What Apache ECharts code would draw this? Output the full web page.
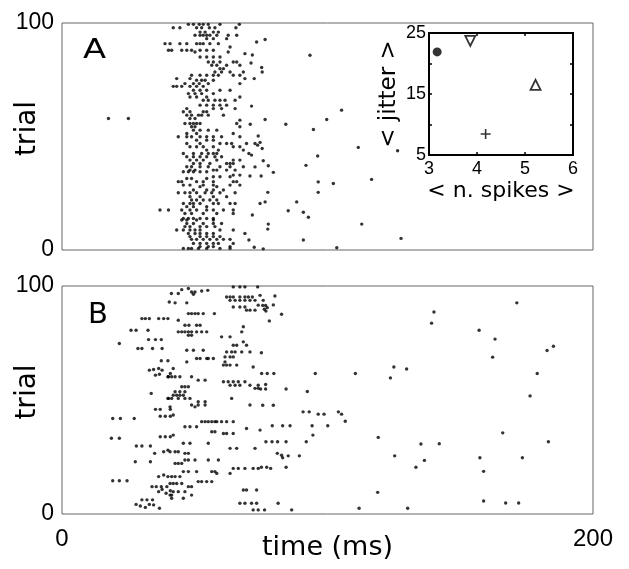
<!DOCTYPE html>
<html>
<head>
<meta charset="utf-8">
<script src="https://cdn.jsdelivr.net/npm/echarts@6/dist/echarts.min.js"></script>
<style>
  html, body { margin: 0; padding: 0; background: #fff; }
  #chart { width: 629px; height: 569px; }
</style>
</head>
<body>
<div id="chart"></div>
<script>
// spike rasters: [time (ms), trial]
let raster_a_early = [
    [47.6,99.4],[49.5,99.4],[51.7,99.4],[53.2,99.4],[55.1,99.4],[59.5,99.4],[66.8,99.4],
    [41.9,97.9],[44.4,97.9],[50.7,97.9],[52.6,97.9],[55.5,97.9],[57.6,97.9],[65.5,97.9],
    [52.0,96.0],[53.9,96.0],[57.0,96.0],[58.9,96.0],
    [50.1,94.6],[52.0,94.6],[53.2,94.6],[54.5,94.6],[55.7,94.6],[58.3,94.6],[62.6,94.6],[65.8,94.6],
    [54.5,93.1],[57.0,93.1],[62.0,93.1],
    [38.8,90.9],[40.7,90.9],[44.4,90.9],[47.0,90.9],[50.7,90.9],[52.0,90.9],[53.2,90.9],[55.7,90.9],[58.9,90.9],
    [63.3,89.4],
    [40.1,88.0],[41.3,88.0],[45.1,88.0],[47.0,88.0],[48.8,88.0],[52.0,88.0],[54.5,88.0],[57.0,88.0],
    [50.1,87.2],[62.6,87.2],[68.9,86.5],
    [52.0,85.0],[54.5,85.0],[57.0,85.0],[59.5,85.0],
    [55.1,82.8],[57.0,82.8],[59.5,82.8],[64.5,82.8],[65.8,82.8],
    [56.4,81.4],[58.3,81.4],[62.0,81.4],[67.0,81.4],
    [59.5,79.9],[60.8,79.9],
    [57.6,78.4],[60.1,78.4],[63.3,78.4],[68.3,78.4],
    [48.8,77.0],[52.0,77.0],[54.5,77.0],[57.0,77.0],[58.9,77.0],[64.5,77.0],[67.0,77.0],
    [43.2,75.5],[48.2,75.5],[68.9,75.5],
    [50.7,74.8],[52.6,74.8],[53.9,74.8],[57.0,74.8],
    [46.3,73.3],[49.5,73.3],[51.7,73.3],[55.1,73.3],[67.0,73.3],
    [41.9,72.1],[43.2,72.1],[45.1,72.1],[48.2,72.1],[50.7,72.1],[53.2,72.1],
    [49.5,70.4],[52.0,70.4],[54.5,70.4],[59.5,70.4],[63.3,70.4],
    [47.6,68.9],[50.1,68.9],[52.6,68.9],[57.0,68.9],
    [48.2,67.4],[50.7,67.4],[54.5,67.4],[67.0,67.4],
    [53.2,66.0],[55.1,66.0],[57.6,66.0],[59.5,66.0],[61.4,66.0],[65.2,66.0],
    [52.0,63.8],[54.5,63.8],[57.0,63.8],[59.5,63.8],[62.0,63.8],
    [47.0,62.3],[57.0,62.3],[60.1,62.3],[65.2,62.3],
    [45.7,60.9],[48.2,60.9],[53.2,60.9],[54.5,60.9],
    [47.0,59.4],[48.8,59.4],[51.4,59.4],[52.6,59.4],[55.1,59.4],[60.8,59.4],
    [17.5,57.9],[25.0,57.9],[48.2,57.9],[50.1,57.9],[67.0,57.2],
    [46.3,55.7],[48.2,55.7],[49.5,55.7],[50.7,55.7],[52.0,55.7],[65.8,55.7],
    [48.8,54.3],[50.1,54.3],[67.0,54.3],
    [49.5,52.8],[52.0,52.8],[55.1,52.8],[58.3,52.8],
    [47.0,51.3],[50.7,51.3],[64.5,51.3],
    [43.8,49.9],[47.0,49.9],[48.8,49.9],[52.0,49.9],[54.5,49.9],[57.0,49.9],[60.1,49.9],[67.0,49.9],
    [50.7,48.4],[54.5,48.4],[57.0,48.4],
    [47.0,46.9],[52.0,46.9],[59.5,46.9],[62.0,46.9],[63.9,46.9],[69.5,46.9],
    [48.2,45.5],[50.7,45.5],[53.2,45.5],[57.0,45.5],[64.5,45.5],[67.0,45.5],
    [54.5,44.0],[58.9,44.0],[68.3,44.0],
    [45.7,42.5],[49.5,42.5],[52.6,42.5],[55.1,42.5],[57.0,42.5],[58.3,42.5],
    [47.0,41.1],[49.5,41.1],[52.0,41.1],[54.5,41.1],[57.6,41.1],[60.1,41.1],
    [48.2,39.6],[50.7,39.6],[53.2,39.6],[58.3,39.6],[64.5,39.6],[67.0,39.6],
    [49.5,38.1],[52.0,38.1],[55.7,38.1],[62.0,38.1],[63.3,38.1],[64.5,38.1],
    [47.0,36.7],[48.8,36.7],[52.0,36.7],[55.1,36.7],[59.5,36.7],[63.3,36.7],[68.3,36.7],
    [48.2,35.2],[50.1,35.2],[57.0,35.2],[58.3,35.2],[62.0,35.2],[65.2,35.2],
    [45.7,34.5],[47.6,34.5],[49.5,34.5],[52.0,34.5],[54.5,34.5],
    [64.5,33.0],[67.0,33.0],[57.0,32.3],[59.5,32.3],[63.3,32.3],
    [47.0,31.5],[48.8,31.5],[54.5,31.5],
    [43.8,30.1],[45.1,30.1],[50.7,30.1],[53.2,30.1],[57.0,30.1],[64.5,30.1],[65.8,30.1],
    [45.7,28.6],[48.2,28.6],[53.2,28.6],[57.0,28.6],[63.3,28.6],[67.0,28.6],
    [52.0,27.9],[58.3,27.9],
    [49.5,26.4],[54.5,26.4],[57.0,26.4],[60.8,26.4],
    [43.8,25.2],[46.3,25.2],[48.2,25.2],[50.7,25.2],[53.9,25.2],[56.4,25.2],[59.5,25.2],[65.2,25.2],
    [48.2,23.5],[52.0,23.5],[57.0,23.5],[62.0,23.5],
    [48.8,22.0],[50.7,22.0],[53.2,22.0],[55.7,22.0],[58.3,22.0],
    [45.7,20.5],[48.2,20.5],[49.5,20.5],[52.0,20.5],[57.0,20.5],[58.9,20.5],[63.3,20.5],[65.2,20.5],
    [47.0,19.1],[49.5,19.1],[54.5,19.1],
    [36.9,17.6],[40.1,17.6],[45.1,17.6],[48.2,17.6],[50.7,17.6],[54.5,17.6],[57.0,17.6],[60.8,17.6],[64.5,17.6],
    [46.3,16.1],[48.8,16.1],[53.2,16.1],[58.3,16.1],[64.5,16.1],
    [45.7,13.9],[47.6,13.9],[49.5,13.9],[52.0,13.9],[54.5,13.9],[57.0,13.9],
    [45.1,13.2],[47.0,13.2],[50.7,13.2],[57.0,13.2],
    [47.0,11.7],[49.5,11.7],[53.2,11.7],[57.0,11.7],[60.1,11.7],
    [46.3,10.3],[48.2,10.3],[52.0,10.3],[54.5,10.3],[57.6,10.3],
    [43.2,8.8],[45.7,8.8],[48.2,8.8],[50.1,8.8],[52.0,8.8],[59.5,8.8],[64.5,8.8],
    [47.6,7.3],[50.1,7.3],[52.0,7.3],[54.5,7.3],[57.0,7.3],[68.9,7.3],
    [48.2,5.9],[52.0,5.9],[54.5,5.9],[57.0,5.9],[59.5,5.9],
    [48.8,4.7],[50.7,4.7],[53.2,4.7],[55.7,4.7],[58.3,4.7],[60.8,4.7],[63.3,4.7],
    [49.5,2.9],[52.0,2.9],[54.5,2.9],[57.0,2.9],[58.9,2.9],[64.5,2.9],
    [52.0,1.5],[55.1,1.5],[57.0,1.5],[63.3,1.5],
    [45.7,0.7],[47.6,0.7],[48.8,0.7],[51.4,0.7],[54.5,0.7],[59.5,0.7],[63.3,0.7]
];

let raster_a_late = [
    [73.3,91.6],[76.5,92.7],[71.7,85.9],[71.2,82.4],[75.2,80.4],[75.4,78.4],[72.4,75.5],[93.4,85.8],
    [71.4,63.4],[70.9,55.4],[76.5,57.5],[84.3,55.4],[94.7,53.1],[99.7,57.5],[105.3,61.6],
    [73.9,50.2],[74.6,47.4],[72.7,46.9],[73.7,46.2],[75.4,44.7],[70.4,42.5],[71.4,41.8],
    [111.6,45.2],[96.3,41.4],[75.8,39.3],[77.7,37.1],[72.7,36.6],[79.6,34.2],[70.8,32.6],[75.0,32.6],
    [91.9,37.3],[96.5,30.0],[102.2,29.3],[116.6,31.1],[96.5,25.4],[77.5,25.4],[76.5,21.2],[74.6,20.5],
    [88.4,21.2],[85.2,17.3],[90.9,16.6],[92.8,14.4],[71.7,15.4],[77.7,11.4],[77.5,9.2],[112.9,11.4],
    [70.4,4.4],[72.4,1.2],[75.8,0.5],[90.9,4.4],[103.5,1.0],[127.7,5.1],[126.4,43.7]
];

let raster_b_early = [
    [41.2,96.7],[40.4,93.0],
    [30.1,85.7],[31.4,85.7],[32.9,85.7],[36.4,85.7],[38.3,85.7],[39.9,85.7],
    [26.0,80.6],[27.9,80.6],[32.4,80.6],[21.6,74.8],
    [32.6,76.5],[35.2,76.5],[37.4,76.5],
    [28.6,72.6],[30.1,72.6],[34.1,72.6],[37.7,72.6],
    [37.4,67.2],[39.9,67.2],
    [32.9,63.1],[34.5,63.4],[36.4,63.8],[37.7,63.1],[35.2,60.9],[36.7,61.3],[39.9,60.2],[40.8,61.6],
    [33.6,52.9],[39.9,50.7],
    [35.2,45.9],[37.0,45.9],[40.8,45.9],
    [37.0,42.9],[38.9,42.9],[40.8,42.9],
    [19.1,41.9],[22.0,41.9],[27.2,41.9],
    [18.6,33.2],[21.6,33.2],
    [37.0,33.9],[38.9,33.9],[40.8,33.9],
    [28.0,29.8],[30.1,29.8],[33.3,29.8],
    [34.9,26.6],[38.3,27.3],[39.9,28.0],
    [27.6,22.9],[33.3,22.9],
    [19.1,14.6],[21.6,14.6],[24.5,14.6],
    [36.4,16.4],[38.3,17.1],[39.9,16.4],
    [33.9,12.0],[35.5,12.0],[37.4,12.0],[39.5,12.0],
    [36.4,9.8],[37.7,10.8],[39.2,9.1],[40.8,10.2],
    [30.1,6.2],[32.0,6.2],[34.1,6.2],
    [27.9,4.2],[29.5,3.5],[31.4,2.9],[32.9,4.2],[34.5,4.0],[36.7,2.5]
];

let raster_b_mid = [
    [64.5,99.6],[67.0,99.6],[68.9,99.6],[73.7,99.6],
    [43.8,96.7],[45.1,98.4],[47.6,98.9],[48.8,97.4],[49.5,96.4],[50.1,97.4],[52.6,97.8],[54.9,98.1],
    [62.0,95.2],[63.3,95.2],[64.5,95.2],[67.0,95.2],[68.9,95.2],[70.2,95.2],[71.7,95.2],
    [63.3,93.7],[65.2,93.7],[67.0,93.7],[68.9,93.7],[70.8,93.7],[72.7,93.7],
    [42.6,92.6],[47.0,92.6],[73.9,91.6],
    [64.5,90.8],[67.0,90.8],[68.9,90.8],
    [69.5,89.4],[70.8,89.4],[72.7,89.4],
    [47.6,87.9],[48.8,87.9],[50.1,87.9],[51.3,87.9],[53.2,87.9],[57.4,87.9],
    [43.8,85.0],
    [46.3,82.8],[47.8,82.8],[50.7,82.8],[52.0,82.8],[68.3,82.1],
    [43.8,79.9],[45.1,79.9],[46.3,79.9],[47.6,79.9],[48.8,79.9],[50.7,79.9],[52.6,79.9],[54.5,79.9],[67.7,79.9],
    [47.6,78.4],[48.8,78.4],[60.1,77.7],[63.3,77.7],[68.3,75.5],
    [64.5,74.0],[65.8,74.0],[69.5,74.0],
    [47.0,71.8],[49.5,71.8],[53.2,71.8],
    [62.0,71.1],[63.9,71.1],[65.2,71.1],[67.7,71.1],[70.8,71.1],
    [61.4,68.9],[63.3,68.9],[64.5,68.9],
    [50.7,68.2],[52.0,68.2],[54.5,68.2],[55.1,68.2],[57.0,68.2],
    [47.0,66.7],[61.4,66.7],
    [60.8,65.3],[62.0,65.3],[63.3,65.3],[65.8,65.3],
    [72.0,64.5],[41.9,63.8],
    [40.1,60.2],[41.3,60.2],[42.6,60.2],[44.4,60.2],[48.8,60.2],
    [51.3,58.7],[53.9,58.7],
    [60.8,58.0],[62.6,58.0],[64.5,58.0],[66.4,58.0],[68.9,58.0],
    [63.3,56.5],[65.2,56.5],[67.0,56.5],[70.8,56.5],[73.9,56.5],
    [45.1,55.8],[46.3,55.8],[47.6,55.8],[72.7,55.1],[73.9,55.1],
    [42.6,53.6],[44.4,53.6],[46.3,53.6],
    [41.9,52.1],[43.2,52.1],[44.4,52.1],[45.7,52.1],
    [40.1,50.7],[41.3,50.7],[43.8,50.7],[46.3,50.7],[48.2,50.7],[63.9,50.7],
    [51.3,49.2],[53.9,49.2],
    [48.8,47.8],[51.3,47.8],[53.9,47.8],[70.8,47.8],
    [40.7,47.0],[50.1,47.0],[41.9,43.4],
    [52.6,40.5],[53.9,40.5],[55.1,40.5],[56.4,40.5],[57.6,40.5],[58.3,40.5],[60.1,40.5],[62.0,40.5],[64.5,40.5],
    [46.3,38.3],[48.2,38.3],[50.7,38.3],[69.5,37.5],
    [56.4,36.1],[57.6,36.1],[60.8,35.3],[62.0,35.3],[64.5,35.3],
    [41.9,34.6],
    [45.7,31.0],[48.2,31.0],[55.1,31.0],
    [63.3,28.8],[65.8,28.8],[72.7,28.8],
    [40.7,27.3],[42.6,27.3],[43.8,27.3],[46.3,26.6],[47.6,26.6],
    [46.3,23.7],[47.6,23.7],[50.1,23.7],[55.1,23.7],[58.9,23.7],
    [42.6,22.2],[43.8,22.2],[45.1,22.2],
    [64.5,20.0],[66.4,20.0],[68.9,20.0],[72.0,20.0],[73.9,20.0],
    [45.7,18.6],[47.6,18.6],[50.7,18.6],[56.4,18.6],[57.6,18.6],
    [58.3,17.8],[63.3,17.8],
    [41.3,16.4],[42.6,16.4],[44.4,16.4],
    [51.3,14.2],[52.6,14.2],[54.5,14.2],[56.4,14.2],
    [40.7,13.4],[41.9,13.4],[43.2,13.4],[45.1,13.4],
    [47.6,12.0],[48.8,12.0],
    [68.3,10.5],[69.5,10.5],[73.3,10.5],
    [41.9,9.8],[43.8,9.8],[46.3,9.8],
    [40.7,8.3],[41.3,8.3],[48.8,8.3],
    [41.3,6.9],[45.7,6.9],
    [67.0,4.7],[68.9,4.7],[71.4,4.7],[73.3,4.7],
    [72.0,1.8],[73.9,1.8]
];

let raster_b_late = [
    [74.6,95.9],[80.2,95.6],[75.8,93.7],[75.6,91.5],[76.7,91.5],[79.6,91.7],[76.2,89.8],[77.3,90.5],
    [76.8,89.0],[78.1,84.7],[82.7,87.6],[75.1,70.7],
    [75.2,61.6],[77.3,61.6],[79.8,61.6],[95.4,61.6],[110.5,61.6],
    [125.0,64.5],[129.8,63.6],[123.7,59.7],
    [76.7,56.8],[74.8,54.8],[76.7,54.8],[84.4,54.8],[92.4,53.7],
    [75.6,47.7],[79.6,47.7],
    [90.8,44.8],[93.1,44.8],[96.5,43.8],[98.7,43.8],[104.1,44.8],[105.3,43.8],[106.7,40.7],
    [79.2,38.7],[83.1,38.7],[85.9,38.7],[94.2,38.7],[100.1,38.7],
    [74.6,36.8],[94.5,34.6],
    [76.8,31.7],[79.1,31.7],[81.2,31.7],[84.4,31.7],[92.0,31.7],
    [119.1,33.6],[135.2,30.7],
    [81.1,26.6],[82.7,25.8],[83.1,24.7],[85.2,25.5],[89.4,25.5],[125.3,25.5],[136.5,23.5],[133.3,20.5],
    [75.1,20.5],[77.1,20.5],[78.6,20.0],[84.4,20.5],
    [118.9,9.5],[81.4,4.7],[76.3,1.8],[86.5,1.8],[111.9,2.5],[130.2,2.5],
    [171.3,92.6],[140.1,88.6],[139.2,83.7],[157.1,80.6],[163.1,76.7],[182.7,71.7],[185.1,73.6],
    [162.2,68.8],[179.0,61.6],[176.3,51.8],[166.0,35.6],[142.1,30.8],[183.2,31.7],
    [157.4,24.7],[173.4,24.7],[158.8,18.7],[158.8,5.7],[167.1,4.8],[172.0,4.8]
];

// inset: [< n. spikes >, < jitter >]
let inset_filled_circle = [[3.17, 21.9]];
let inset_down_triangle = [[3.86, 23.7]];
let inset_up_triangle = [[5.22, 16.5]];
let inset_plus = [[4.18, 8.45]];

let inset_jitter_labels = [5, 15, 25];

let tick_font = '"Liberation Sans", Arial, sans-serif';
let name_font = '"DejaVu Sans", sans-serif';

let chart = echarts.init(document.getElementById('chart'));

let raster_y_axis = function (grid_index) {
    return {
        type: 'value',
        gridIndex: grid_index,
        min: 0,
        max: 100,
        interval: 100,
        name: 'trial',
        nameLocation: 'middle',
        nameGap: 20,
        nameMoveOverlap: false,
        nameTextStyle: {fontSize: 28, fontFamily: name_font, color: '#000', padding: [0, 0, 0, 16]},
        axisLine: {show: false},
        axisTick: {show: false},
        splitLine: {show: false},
        axisLabel: {fontSize: 23, fontFamily: tick_font, color: '#000', margin: 8}
    };
};

let raster_series = function (data, axis_index) {
    return {
        type: 'scatter',
        xAxisIndex: axis_index,
        yAxisIndex: axis_index,
        symbol: 'circle',
        symbolSize: 3.4,
        itemStyle: {color: '#000'},
        silent: true,
        data: data
    };
};

let inset_axis_common = {
    gridIndex: 2,
    type: 'value',
    nameMoveOverlap: false,
    axisLine: {show: false},
    axisTick: {show: true, inside: true, length: 3, lineStyle: {color: '#000', width: 1.5}},
    splitLine: {show: false}
};

let echarts_options = {
    animation: false,
    backgroundColor: '#fff',
    grid: [
        {left: 62, top: 23, width: 531, height: 227, outerBoundsMode: 'none', show: true, borderColor: '#666', borderWidth: 1},
        {left: 62, top: 286, width: 531, height: 228, outerBoundsMode: 'none', show: true, borderColor: '#666', borderWidth: 1},
        {left: 429, top: 33, width: 144, height: 122, outerBoundsMode: 'none', show: true, borderColor: '#000', borderWidth: 2, backgroundColor: '#fff'}
    ],
    xAxis: [
        {
            type: 'value', gridIndex: 0, min: 0, max: 200, interval: 200,
            axisLine: {show: false}, axisTick: {show: false}, splitLine: {show: false},
            axisLabel: {show: false}
        },
        {
            type: 'value', gridIndex: 1, min: 0, max: 200, interval: 200,
            name: 'time (ms)',
            nameLocation: 'middle',
            nameGap: 20,
            nameMoveOverlap: false,
            nameTextStyle: {fontSize: 27, fontFamily: name_font, color: '#000'},
            axisLine: {show: false}, axisTick: {show: false}, splitLine: {show: false},
            axisLabel: {fontSize: 24, fontFamily: tick_font, color: '#000', margin: 13}
        },
        Object.assign({}, inset_axis_common, {
            position: 'bottom', min: 3, max: 6, interval: 1,
            name: '< n. spikes >',
            nameLocation: 'middle',
            nameGap: 25,
            nameTextStyle: {fontSize: 22, fontFamily: name_font, color: '#000'},
            axisLabel: {fontSize: 18, fontFamily: tick_font, color: '#000', margin: 5}
        }),
        Object.assign({}, inset_axis_common, {
            position: 'top', min: 3, max: 6, interval: 1,
            axisLabel: {show: false}
        })
    ],
    yAxis: [
        raster_y_axis(0),
        raster_y_axis(1),
        Object.assign({}, inset_axis_common, {
            position: 'left', min: 5, max: 25, interval: 5,
            name: '< jitter >',
            nameLocation: 'middle',
            nameGap: 28,
            nameTextStyle: {fontSize: 23, fontFamily: name_font, color: '#000'},
            axisLabel: {
                fontSize: 18, fontFamily: tick_font, color: '#000', margin: 3,
                formatter: function (v) {
                    return inset_jitter_labels.indexOf(v) >= 0 ? String(v) : '';
                }
            }
        }),
        Object.assign({}, inset_axis_common, {
            position: 'right', min: 5, max: 25, interval: 5,
            axisLabel: {show: false}
        })
    ],
    graphic: [
        {type: 'text', x: 83, y: 38, scaleX: 1.3, style: {text: 'A', fontSize: 26, fontFamily: name_font, fill: '#000'}},
        {type: 'text', x: 88, y: 301, style: {text: 'B', fontSize: 29, fontFamily: name_font, fill: '#000'}}
    ],
    series: [
        raster_series(raster_a_early, 0),
        raster_series(raster_a_late, 0),
        raster_series(raster_b_early, 1),
        raster_series(raster_b_mid, 1),
        raster_series(raster_b_late, 1),
        {
            type: 'scatter', xAxisIndex: 2, yAxisIndex: 2, z: 5,
            symbol: 'circle', symbolSize: 9,
            itemStyle: {color: '#000'},
            data: inset_filled_circle
        },
        {
            type: 'scatter', xAxisIndex: 2, yAxisIndex: 2, z: 5,
            symbol: 'triangle', symbolSize: 10, symbolRotate: 180,
            itemStyle: {color: '#fff', borderColor: '#000', borderWidth: 1.8},
            data: inset_down_triangle
        },
        {
            type: 'scatter', xAxisIndex: 2, yAxisIndex: 2, z: 5,
            symbol: 'triangle', symbolSize: 10,
            itemStyle: {color: '#fff', borderColor: '#000', borderWidth: 1.8},
            data: inset_up_triangle
        },
        {
            type: 'scatter', xAxisIndex: 2, yAxisIndex: 2, z: 5,
            symbol: 'path://M5,0L5,10M0,5L10,5', symbolSize: 10,
            itemStyle: {color: 'none', borderColor: '#000', borderWidth: 1.6},
            data: inset_plus
        }
    ]
};

chart.setOption(echarts_options);
</script>
</body>
</html>
